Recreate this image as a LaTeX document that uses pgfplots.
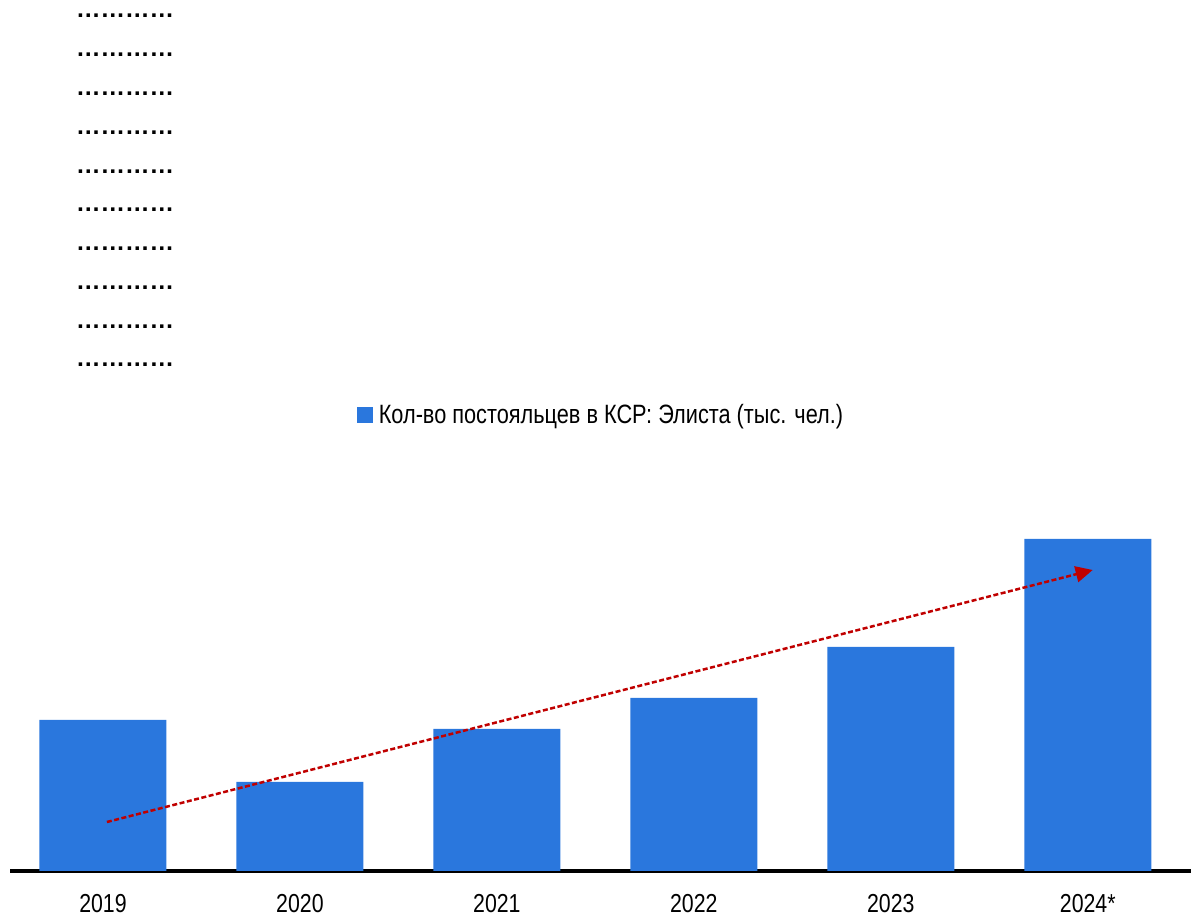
\documentclass[border=0pt]{standalone}
\usepackage{fontspec}
\setmainfont{Liberation Sans}[FakeStretch=0.82]
\newfontfamily\dotfont{Liberation Sans}
\usepackage{pgfplots}
\pgfplotsset{compat=1.18}
\usetikzlibrary{arrows.meta}
\definecolor{barblue}{HTML}{2A77DD}
\definecolor{arrred}{HTML}{C00000}
\begin{document}
\begin{tikzpicture}[x=1pt,y=1pt]
\begin{axis}[
  scale only axis,
  width=1181pt, height=871pt,
  anchor=south west, at={(10pt,46pt)},
  xmin=-0.472, xmax=5.524,
  ymin=0, ymax=871,
  axis x line*=bottom, axis y line*=left,
  y axis line style={draw=none},
  x axis line style={line width=4.5pt, -},
  xtick={0,1,2,3,4,5},
  xticklabels={2019,2020,2021,2022,2023,2024*},
  ytick={504,542.8,581.6,620.3,659.1,697.9,736.7,775.5,814.3,853},
  yticklabels={{\dotfont\bfseries …………},{\dotfont\bfseries …………},{\dotfont\bfseries …………},{\dotfont\bfseries …………},{\dotfont\bfseries …………},{\dotfont\bfseries …………},{\dotfont\bfseries …………},{\dotfont\bfseries …………},{\dotfont\bfseries …………},{\dotfont\bfseries …………}},
  major tick length=0pt,
  tick style={draw=none},
  yticklabel style={anchor=base west, xshift=66pt, inner sep=0pt, font=\fontsize{24.5}{30}\selectfont},
  xticklabel style={font=\fontsize{26}{30}\selectfont, yshift=-20pt},
  legend style={at={(0.5004,0.524)}, anchor=center, draw=none, fill=none,
    font=\fontsize{26.5}{31}\selectfont, inner sep=0pt,
    legend cell align=left,
    /tikz/every even column/.append style={column sep=0pt}},
  legend image code/.code={\fill[barblue] (0pt,-8pt) rectangle (16pt,8pt);},
  legend image post style={},
  clip=false,
]
\addplot[ybar, bar width=127pt, fill=barblue, draw=none] coordinates {
  (0,151) (1,89) (2,142) (3,173) (4,224) (5,332)
};
\addlegendentry{\hspace{4pt}Кол-во постояльцев в КСР: Элиста (тыс. чел.)}
\addplot[forget plot, arrred, line width=2.5pt, dash pattern=on 5pt off 2.5pt,
  -{Triangle[length=17pt,width=16pt]}] coordinates {(0.02,49) (5.025,301)};
\end{axis}
\pgfresetboundingbox
\path (0,0) rectangle (1191pt,917pt);
\end{tikzpicture}
\end{document}
